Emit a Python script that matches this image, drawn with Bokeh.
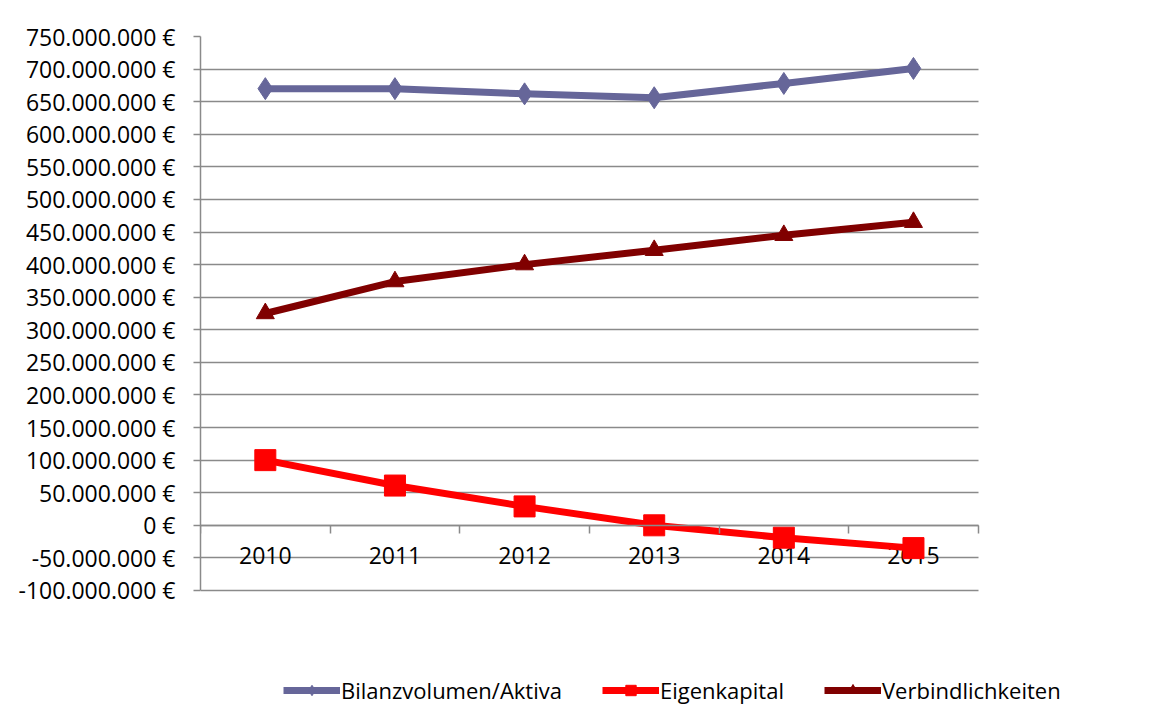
from bokeh.plotting import figure
from bokeh.models import FixedTicker, Range1d, Legend, LegendItem, Grid
from bokeh.core.properties import value
from bokeh.embed import file_html
from bokeh.resources import INLINE
import numpy as np

years = ["2010", "2011", "2012", "2013", "2014", "2015"]
bilanz = [670_000_000, 670_000_000, 662_000_000, 656_000_000, 678_000_000, 701_000_000]
eigenkapital = [100_000_000, 61_000_000, 29_000_000, 0, -19_000_000, -35_000_000]
verbindlichkeiten = [325_000_000, 374_000_000, 400_000_000, 422_000_000, 445_000_000, 465_000_000]
y_ticks = list(range(-100_000_000, 750_000_001, 50_000_000))
y_labels = {t: f"{t:,}".replace(",", ".") + " €" for t in y_ticks}

FONT = "Open Sans"
GRID = "#8a8a8a"
LEGEND_SPACE = 178_000_000  # extra room under the value axis for the legend

n = len(years)
x = list(np.arange(n) + 0.5)
boundaries = list(range(n + 1))

CAN_CROSS = "cross_bounds" in Grid.properties()
X_EXTRA = 0.75 if CAN_CROSS else 0.0       # extra room right of the plot for the legend
UNIT_PX = 129.6
border_right = int(round(176 - X_EXTRA * UNIT_PX))

p = figure(width=1154, height=720, output_backend="svg", toolbar_location=None,
           x_range=Range1d(0, n + X_EXTRA),
           y_range=Range1d(y_ticks[0] - LEGEND_SPACE, y_ticks[-1]),
           min_border_left=200, min_border_right=border_right, min_border_top=36,
           min_border_bottom=14)
p.outline_line_color = None
p.background_fill_color = "white"

# y axis
p.yaxis.ticker = FixedTicker(ticks=y_ticks)
p.yaxis.bounds = (y_ticks[0], y_ticks[-1])
p.yaxis.major_label_overrides = y_labels
p.yaxis.major_label_text_font = FONT
p.yaxis.major_label_text_font_size = "23px"
p.yaxis.major_label_text_color = "black"
p.yaxis.axis_line_color = GRID
p.yaxis.axis_line_width = 1.5
p.yaxis.major_tick_line_color = GRID
p.yaxis.major_tick_line_width = 1.5
p.yaxis.major_tick_out = 7
p.yaxis.major_tick_in = 0
p.yaxis.minor_tick_line_color = None
p.yaxis.major_label_standoff = 18

p.ygrid.ticker = FixedTicker(ticks=y_ticks)
p.ygrid.grid_line_color = GRID
p.ygrid.grid_line_width = 1.5
if CAN_CROSS:
    p.ygrid.cross_bounds = (0, n)
p.xgrid.grid_line_color = None

# category axis crossing at zero: tick marks at category boundaries
p.xaxis.fixed_location = 0
p.xaxis.bounds = (0, n)
p.xaxis.ticker = FixedTicker(ticks=boundaries)
p.xaxis.major_label_text_font_size = "0px"
p.xaxis.major_label_text_color = None
p.xaxis.axis_line_color = GRID
p.xaxis.axis_line_width = 1.5
p.xaxis.major_tick_line_color = GRID
p.xaxis.major_tick_line_width = 1.5
p.xaxis.major_tick_out = 8
p.xaxis.major_tick_in = 0
p.xaxis.minor_tick_line_color = None

# year labels below the zero line
p.text(x=x, y=[0] * n, text=years, text_font=value(FONT), text_font_size="23px",
       text_color="black", text_align="center", text_baseline="top", y_offset=22)

series = [
    ("Bilanzvolumen/Aktiva", bilanz, "#666699", "diamond", 22),
    ("Eigenkapital", eigenkapital, "#ff0000", "square", 21),
    ("Verbindlichkeiten", verbindlichkeiten, "#800000", "triangle", 18),
]
items = []
for name, vals, col, mk, sz in series:
    l = p.line(x, vals, line_color=col, line_width=7, line_join="round")
    s = p.scatter(x, vals, marker=mk, size=sz, fill_color=col, line_color=col)
    items.append(LegendItem(label=name, renderers=[l, s]))

legend = Legend(items=items, orientation="horizontal", location=(83 if CAN_CROSS else 3, 1),
                label_text_font=FONT, label_text_font_size="22px", label_text_color="black",
                glyph_width=57, glyph_height=26, label_standoff=1, spacing=40,
                border_line_color=None, background_fill_alpha=0, margin=0, padding=0)
p.add_layout(legend)

open("out.html", "w").write(file_html(p, INLINE))
